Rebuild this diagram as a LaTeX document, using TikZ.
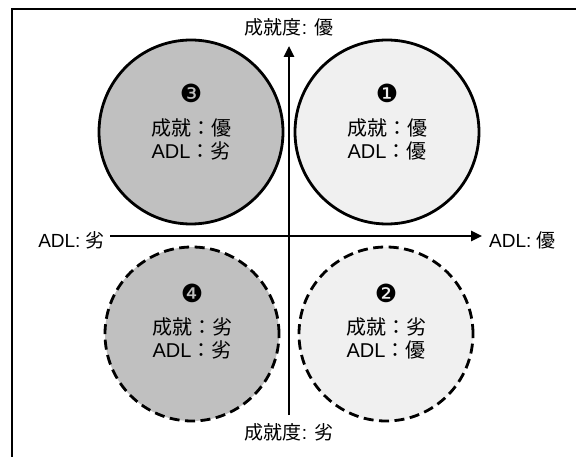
\documentclass[tikz,border=0pt]{standalone}
\usepackage{fontspec}
\setmainfont{Liberation Sans}
\newfontfamily\cjk{Noto Sans CJK JP}
\newfontfamily\dingf{DejaVu Sans}
\usetikzlibrary{arrows.meta}
\definecolor{darkfill}{HTML}{C0C0C0}
\definecolor{lightfill}{HTML}{F0F0F0}
\tikzset{
  circ/.style={circle, draw=black, line width=2.8pt, inner sep=0pt},
  solidcirc/.style={circ},
  dashcirc/.style={circ, dash pattern=on 10pt off 5.5pt},
  axis/.style={line width=2.6pt, -{Triangle[length=11pt,width=10pt]}},
  axlabel/.style={font=\fontsize{19}{22}\selectfont, inner sep=1pt},
  numlabel/.style={font=\dingf\fontsize{25}{28}\selectfont, inner sep=0pt},
  txtlabel/.style={font=\fontsize{20}{23}\selectfont, align=center, inner sep=0pt}
}
\begin{document}
\begin{tikzpicture}[x=1pt,y=-1pt]
\useasboundingbox (0,0) rectangle (576,457);
% frame
\draw[line width=2.2pt] (12,458) -- (12,9) -- (577,9);
% circles
\node[solidcirc, fill=darkfill, minimum size=184pt] (c3) at (191,132) {};
\node[solidcirc, fill=lightfill, minimum size=184pt] (c1) at (387,132) {};
\node[dashcirc, fill=darkfill, minimum size=174pt] (c4) at (192,334) {};
\node[dashcirc, fill=lightfill, minimum size=174pt] (c2) at (386,334) {};
% axes
\coordinate (vb) at (289,415);
\coordinate (vt) at (289,46);
\coordinate (hl) at (110,236);
\coordinate (hr) at (482,236);
\draw[axis] (vb) -- (vt);
\draw[axis] (hl) -- (hr);
% axis labels
\node[axlabel] (top) at (289,27) {{\cjk 成就度}: {\cjk 優}};
\node[axlabel] (bot) at (289,432) {{\cjk 成就度}: {\cjk 劣}};
\node[axlabel, anchor=east] (left) at (106,240) {ADL: {\cjk 劣}};
\node[axlabel, anchor=west] (right) at (488,240) {ADL: {\cjk 優}};
% circle contents
\node[numlabel] (n3) at (191,93) {❸};
\node[txtlabel] (t3) at (191,139) {{\cjk 成就：優}\\ADL{\cjk ：劣}};
\node[numlabel] (n1) at (387,93) {❶};
\node[txtlabel] (t1) at (387,139) {{\cjk 成就：優}\\ADL{\cjk ：優}};
\node[numlabel] (n4) at (192,293) {❹};
\node[txtlabel] (t4) at (192,338) {{\cjk 成就：劣}\\ADL{\cjk ：劣}};
\node[numlabel] (n2) at (386,293) {❷};
\node[txtlabel] (t2) at (386,338) {{\cjk 成就：劣}\\ADL{\cjk ：優}};
\end{tikzpicture}
\end{document}
